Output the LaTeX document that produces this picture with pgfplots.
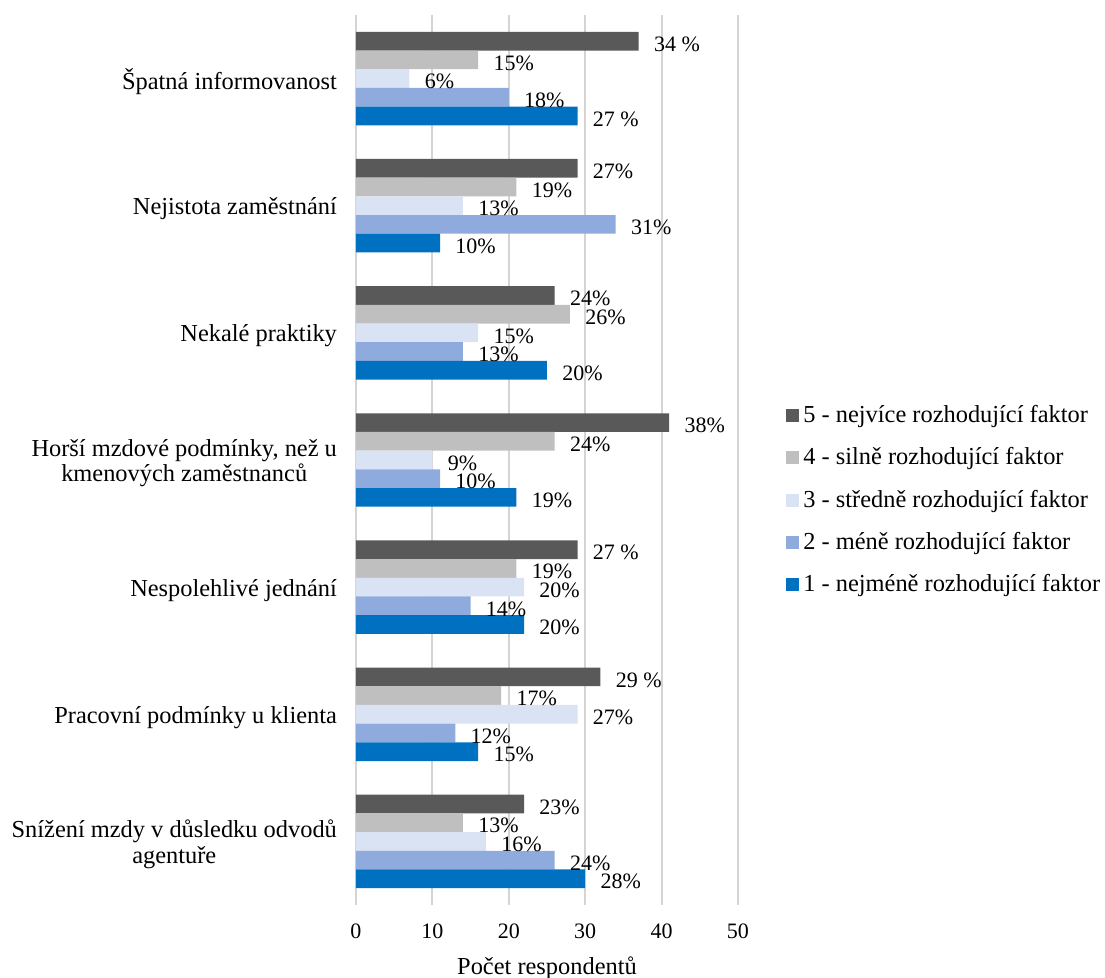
\documentclass[border=0pt]{standalone}
\usepackage{fontspec}
\setmainfont{Liberation Serif}
\usepackage{pgfplots}
\pgfplotsset{compat=1.18}
\definecolor{c5}{HTML}{595959}
\definecolor{c4}{HTML}{BFBFBF}
\definecolor{c3}{HTML}{DAE3F3}
\definecolor{c2}{HTML}{8FAADC}
\definecolor{c1}{HTML}{0070C0}
\newcommand{\cf}{\fontsize{12.2}{12.8}\selectfont}
\newcommand{\smf}{\fontsize{11}{12}\selectfont}
\begin{document}
\begin{tikzpicture}
\useasboundingbox (-178pt,-36.5pt) rectangle (374.5pt,452.5pt);
\begin{axis}[
  at={(0pt,0pt)}, anchor=south west,
  scale only axis, width=191pt, height=445pt,
  xbar, bar width=0.147,
  xmin=0, xmax=50, ymin=-0.5, ymax=6.5, y dir=reverse,
  xtick={0,10,20,30,40,50}, ytick={0,1,2,3,4,5,6},
  yticklabels={Špatná informovanost, Nejistota zaměstnání, Nekalé praktiky, {Horší mzdové podmínky, než u\\kmenových zaměstnanců}, Nespolehlivé jednání, Pracovní podmínky u klienta, {Snížení mzdy v důsledku odvodů\\agentuře}},
  axis line style={draw=none},
  major tick length=0pt,
  xmajorgrids, grid style={draw=black!17, line width=1pt},
  yticklabel style={font=\cf, align=center, xshift=-6pt, yshift=-1.5pt},
  xticklabel style={font=\smf, yshift=-6pt},
  /pgf/number format/assume math mode=true,
  xlabel={Počet respondentů},
  xlabel style={font=\cf, yshift=-2pt},
  nodes near coords,
  point meta=explicit symbolic,
  every node near coord/.append style={font=\smf, anchor=west, xshift=7.5pt, yshift=-1.5pt, inner sep=0pt},
  legend style={at={(1,0.455)}, anchor=west, xshift=21pt, draw=none, fill=none, font=\cf, row sep=7pt},
  legend cell align=left,
  legend image code/.code={\fill[#1] (0pt,-3.25pt) rectangle (6.5pt,3.25pt);},
]
\addplot[fill=c5, draw=none, bar shift=-0.294] coordinates {
 (37,0) [34 \%] (29,1) [27\%] (26,2) [24\%] (41,3) [38\%] (29,4) [27 \%] (32,5) [29 \%] (22,6) [23\%]};
\addplot[fill=c4, draw=none, bar shift=-0.147] coordinates {
 (16,0) [15\%] (21,1) [19\%] (28,2) [26\%] (26,3) [24\%] (21,4) [19\%] (19,5) [17\%] (14,6) [13\%]};
\addplot[fill=c3, draw=none, bar shift=0] coordinates {
 (7,0) [6\%] (14,1) [13\%] (16,2) [15\%] (10,3) [9\%] (22,4) [20\%] (29,5) [27\%] (17,6) [16\%]};
\addplot[fill=c2, draw=none, bar shift=0.147] coordinates {
 (20,0) [18\%] (34,1) [31\%] (14,2) [13\%] (11,3) [10\%] (15,4) [14\%] (13,5) [12\%] (26,6) [24\%]};
\addplot[fill=c1, draw=none, bar shift=0.294] coordinates {
 (29,0) [27 \%] (11,1) [10\%] (25,2) [20\%] (21,3) [19\%] (22,4) [20\%] (16,5) [15\%] (30,6) [28\%]};
\legend{5 - nejvíce rozhodující faktor, 4 - silně rozhodující faktor, 3 - středně rozhodující faktor, 2 - méně rozhodující faktor, 1 - nejméně rozhodující faktor}
\end{axis}
\end{tikzpicture}
\end{document}
